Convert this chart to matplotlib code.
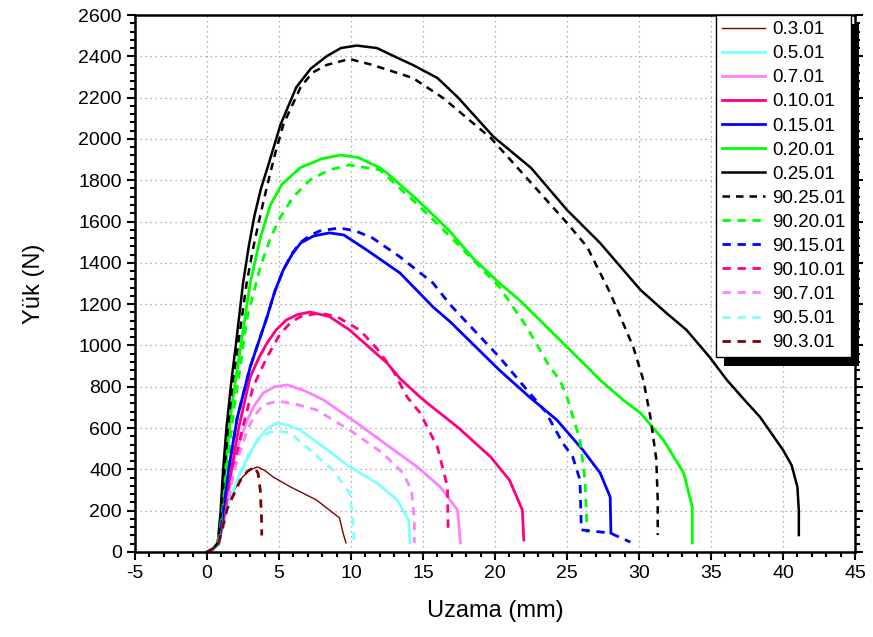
import matplotlib
matplotlib.use("Agg")
import matplotlib.pyplot as plt
from matplotlib.ticker import MultipleLocator
from matplotlib.patches import Rectangle

plt.rcParams['font.family'] = ['Liberation Sans', 'DejaVu Sans']

# ---- data (Uzama mm, Yük N) ----
s25_x = [0, 0.4, 0.75, 0.95, 1.1, 1.35, 1.7, 2.0, 2.5, 2.9, 3.3, 3.75, 4.2, 5.1, 6.2, 7.2, 8.3, 9.3, 10.4, 11.8, 13.0, 14.3, 16.0, 17.4, 19.9, 22.5, 25.0, 27.3, 30.1, 31.9, 33.3, 34.9, 36.1, 37.2, 38.4, 40.0, 40.6, 41.0, 41.1, 41.1]
s25_y = [0, 15, 45, 200, 380, 600, 833, 1000, 1300, 1480, 1630, 1760, 1860, 2068, 2250, 2340, 2400, 2440, 2452, 2440, 2400, 2358, 2295, 2203, 2010, 1860, 1656, 1496, 1269, 1157, 1075, 944, 833, 746, 654, 494, 420, 315, 200, 82]

d25_x = [0, 0.4, 0.75, 1.0, 1.2, 1.45, 1.8, 2.15, 2.75, 3.2, 3.7, 4.2, 4.7, 5.3, 6.5, 7.3, 8.3, 9.9, 11.5, 14.3, 16.4, 19.7, 22.2, 25.0, 26.4, 28.0, 29.6, 30.3, 30.8, 31.2, 31.3, 31.3]
d25_y = [0, 15, 45, 200, 380, 600, 833, 1000, 1300, 1470, 1630, 1780, 1920, 2070, 2250, 2320, 2358, 2387, 2358, 2295, 2198, 2005, 1811, 1593, 1477, 1254, 993, 833, 650, 450, 250, 82]

s20_x = [0, 0.4, 0.75, 1.0, 1.3, 1.7, 2.3, 3.0, 3.7, 4.4, 5.2, 6.46, 8.0, 9.3, 10.5, 12.0, 12.5, 14.6, 15.7, 16.9, 18.5, 20.3, 21.7, 23.8, 26.4, 27.3, 28.9, 30.1, 31.7, 33.1, 33.7, 33.7]
s20_y = [0, 15, 40, 180, 420, 700, 978, 1302, 1520, 1680, 1780, 1860, 1905, 1922, 1910, 1860, 1835, 1705, 1632, 1550, 1420, 1302, 1220, 1075, 896, 833, 736, 673, 542, 383, 218, 44]

d20_x = [0, 0.4, 0.75, 1.05, 1.4, 1.9, 2.8, 3.7, 4.4, 5.1, 6.0, 7.15, 8.5, 9.9, 12.0, 14.5, 17.0, 20.3, 22.2, 23.8, 24.5, 25.0, 25.9, 26.25, 26.4]
d20_y = [0, 15, 40, 180, 420, 700, 1138, 1380, 1520, 1622, 1720, 1801, 1850, 1874, 1850, 1690, 1520, 1283, 1090, 896, 833, 750, 542, 349, 92]

s15_x = [0, 0.4, 0.8, 1.1, 1.5, 2.1, 3.0, 3.6, 4.17, 4.7, 5.3, 5.9, 6.5, 7.4, 8.5, 9.5, 11.1, 13.4, 15.7, 16.9, 20.3, 22.4, 24.3, 26.1, 27.3, 28.0, 28.05]
s15_y = [0, 15, 40, 180, 400, 650, 896, 1020, 1138, 1260, 1366, 1440, 1496, 1530, 1545, 1535, 1462, 1351, 1186, 1114, 881, 750, 639, 494, 383, 266, 92]

d15_x = [0, 0.4, 0.8, 1.1, 1.5, 2.1, 3.0, 3.6, 4.17, 4.7, 5.3, 5.9, 6.5, 7.2, 7.85, 9.2, 10.3, 11.5, 13.4, 15.7, 16.9, 20.3, 22.4, 23.5, 24.7, 25.4, 25.9, 26.0, 28.0, 29.4]
d15_y = [0, 15, 40, 180, 400, 650, 896, 1020, 1138, 1260, 1366, 1445, 1500, 1535, 1555, 1569, 1555, 1520, 1429, 1302, 1196, 944, 770, 680, 528, 460, 349, 107, 92, 48]

s10_x = [0, 0.4, 0.8, 1.2, 1.7, 2.2, 3.0, 3.6, 4.17, 4.8, 5.5, 6.3, 7.15, 8.5, 9.9, 11.2, 12.5, 13.4, 14.8, 15.3, 17.4, 19.7, 21.0, 21.9, 22.0]
s10_y = [0, 15, 40, 180, 400, 600, 847, 940, 1012, 1075, 1123, 1150, 1162, 1140, 1075, 995, 915, 840, 750, 721, 605, 460, 349, 203, 58]

d10_x = [0, 0.4, 0.8, 1.3, 1.8, 2.4, 3.2, 4.17, 5.07, 5.8, 6.5, 7.85, 9.0, 10.6, 11.8, 12.9, 13.9, 14.8, 16.0, 16.7, 16.75]
d10_y = [0, 15, 40, 170, 380, 580, 800, 944, 1055, 1110, 1140, 1157, 1140, 1075, 985, 881, 750, 673, 508, 315, 92]

s7_x = [0, 0.4, 0.8, 1.3, 1.8, 2.3, 2.8, 3.3, 3.9, 4.7, 5.6, 6.8, 8.1, 10.4, 12.7, 14.6, 16.2, 17.4, 17.6]
s7_y = [0, 15, 40, 200, 431, 545, 639, 710, 770, 800, 809, 780, 736, 625, 508, 412, 315, 203, 44]

d7_x = [0, 0.4, 0.8, 1.3, 1.9, 2.8, 3.3, 3.9, 4.9, 6.2, 7.6, 9.9, 12.2, 13.6, 14.2, 14.4, 14.4]
d7_y = [0, 15, 40, 190, 400, 591, 660, 712, 731, 715, 688, 591, 479, 383, 300, 160, 44]

s5_x = [0, 0.4, 0.8, 1.4, 2.3, 2.9, 3.5, 4.2, 4.9, 5.6, 6.46, 8.1, 9.9, 11.8, 13.2, 14.0, 14.1]
s5_y = [0, 15, 40, 220, 383, 470, 542, 600, 625, 615, 591, 508, 412, 334, 252, 155, 44]

d5_x = [0, 0.4, 0.8, 1.4, 2.3, 3.3, 3.8, 4.4, 5.1, 5.8, 6.9, 8.75, 9.9, 10.1, 10.2]
d5_y = [0, 15, 40, 200, 370, 520, 560, 581, 583, 576, 508, 397, 286, 189, 58]

s3_x = [0, 0.4, 0.8, 1.4, 1.9, 2.3, 2.9, 3.5, 4.0, 4.6, 5.8, 7.6, 9.2, 9.45, 9.65]
s3_y = [0, 15, 40, 218, 300, 349, 395, 412, 395, 363, 315, 252, 165, 92, 44]

d3_x = [0, 0.4, 0.8, 1.4, 2.3, 2.8, 3.3, 3.55, 3.7, 3.8, 3.8]
d3_y = [0, 15, 40, 210, 345, 390, 412, 380, 300, 140, 80]

labels = ['0.3.01', '0.5.01', '0.7.01', '0.10.01', '0.15.01', '0.20.01', '0.25.01',
          '90.25.01', '90.20.01', '90.15.01', '90.10.01', '90.7.01', '90.5.01', '90.3.01']

x_ticks = [-5, 0, 5, 10, 15, 20, 25, 30, 35, 40, 45]
y_ticks = list(range(0, 2601, 200))

# ---- styles ----
c3, c5, c7, c10, c15, c20, c25 = '#800000', '#80FFFF', '#FF80FF', '#FF0080', '#0000FF', '#00FF00', '#000000'

series = [
    (s3_x, s3_y, c3, '-', 1.0),
    (s5_x, s5_y, c5, '-', 2.0),
    (s7_x, s7_y, c7, '-', 2.0),
    (s10_x, s10_y, c10, '-', 2.0),
    (s15_x, s15_y, c15, '-', 2.0),
    (s20_x, s20_y, c20, '-', 2.0),
    (s25_x, s25_y, c25, '-', 1.8),
    (d25_x, d25_y, c25, '--', 1.8),
    (d20_x, d20_y, c20, '--', 2.0),
    (d15_x, d15_y, c15, '--', 2.0),
    (d10_x, d10_y, c10, '--', 2.0),
    (d7_x, d7_y, c7, '--', 2.0),
    (d5_x, d5_y, c5, '--', 2.0),
    (d3_x, d3_y, c3, '--', 2.0),
]

fig = plt.figure(figsize=(8.73, 6.37), dpi=100)
ax = fig.add_axes([135/873, 1 - 552/637, 720/873, 537/637])

for (xs, ys, col, ls, lw), lab in zip(series, labels):
    line, = ax.plot(xs, ys, color=col, linestyle=ls, linewidth=lw, label=lab)
    if ls == '--':
        line.set_dashes((3.0, 2.4))

ax.set_xlim(-5, 45)
ax.set_ylim(0, 2600)
ax.set_xticks(x_ticks)
ax.set_yticks(y_ticks)
ax.set_xticklabels([str(v) for v in x_ticks])
ax.xaxis.set_minor_locator(MultipleLocator(1))
ax.yaxis.set_minor_locator(MultipleLocator(40))
ax.grid(True, which='major', color='#999999', linestyle=(0, (1, 3)), linewidth=0.9)

ax.tick_params(which='both', direction='out', labelsize=14, width=1.5, right=True, labelright=False)
ax.tick_params(which='major', length=6)
ax.tick_params(which='minor', length=3.5)
for sp in ax.spines.values():
    sp.set_linewidth(1.8)

ax.set_xlabel('Uzama (mm)', fontsize=17, labelpad=13)
ax.set_ylabel('Yük (N)', fontsize=17, labelpad=24)

leg = ax.legend(loc='upper right', fontsize=13.5, frameon=True, fancybox=False, framealpha=1.0,
                borderaxespad=0.0, handlelength=2.3, handletextpad=0.35,
                labelspacing=0.37, borderpad=0.33, bbox_to_anchor=(0.995, 1.0))
leg.get_frame().set_edgecolor('black')
leg.get_frame().set_linewidth(1.0)
leg.set_zorder(10)

fig.canvas.draw()
bb = leg.get_window_extent()
inv = fig.transFigure.inverted()
(x0, y0) = inv.transform((bb.x0 + 8, bb.y0 - 9))
(x1, y1) = inv.transform((bb.x1 + 8, bb.y1 - 9))
shadow = Rectangle((x0, y0), x1 - x0, y1 - y0, transform=fig.transFigure,
                   facecolor='black', edgecolor='none', zorder=9)
ax.add_artist(shadow)
shadow.set_clip_on(False)

fig.savefig('out.png', dpi=100)
